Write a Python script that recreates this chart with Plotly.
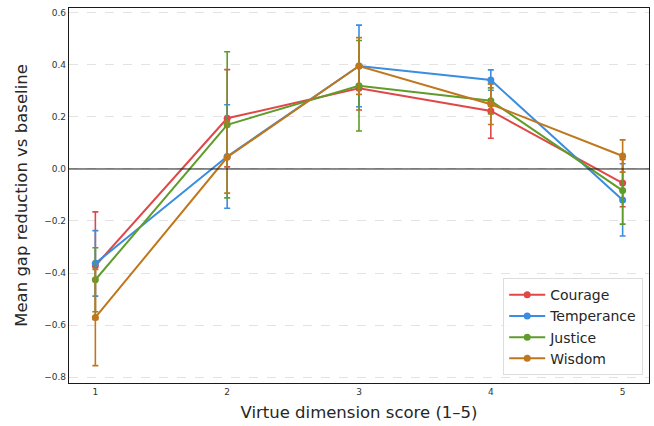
import plotly.graph_objects as go

scores = [1, 2, 3, 4, 5]
series_names = ["Courage", "Temperance", "Justice", "Wisdom"]
courage = [-0.372, 0.195, 0.310, 0.223, -0.054]
courage_err = [0.207, 0.187, 0.083, 0.105, 0.091]
temperance = [-0.363, 0.048, 0.396, 0.342, -0.119]
temperance_err = [0.126, 0.199, 0.157, 0.039, 0.139]
justice = [-0.426, 0.170, 0.320, 0.262, -0.083]
justice_err = [0.123, 0.281, 0.174, 0.050, 0.129]
wisdom = [-0.571, 0.045, 0.396, 0.249, 0.050]
wisdom_err = [0.185, 0.138, 0.109, 0.078, 0.062]
colors = ["#e04848", "#3a8de0", "#5f9c2a", "#c0771c"]
y_ticks = [-0.8, -0.6, -0.4, -0.2, 0.0, 0.2, 0.4, 0.6]

values = [courage, temperance, justice, wisdom]
errors = [courage_err, temperance_err, justice_err, wisdom_err]

fig = go.Figure()
for name, v, e, c in zip(series_names, values, errors, colors):
    fig.add_trace(go.Scatter(
        x=scores, y=v, name=name, mode="lines+markers",
        line=dict(color=c, width=2),
        marker=dict(color=c, size=7),
        error_y=dict(type="data", array=e, visible=True, color=c,
                     thickness=1.6, width=3),
    ))

fig.add_hline(y=0, line=dict(color="#1a1a1a", width=1))

fig.update_layout(
    width=654, height=426,
    margin=dict(l=69, r=5, t=8, b=43),
    paper_bgcolor="white", plot_bgcolor="white",
    font=dict(family="DejaVu Sans", color="#262626"),
    xaxis=dict(
        range=[0.8, 5.2], tickvals=scores, ticktext=[str(s) for s in scores],
        showgrid=False, zeroline=False, showline=True, mirror=True,
        linecolor="#1a1a1a", linewidth=1.3, ticks="", tickfont=dict(size=9, color="#333"),
        title=dict(text="Virtue dimension score (1–5)", font=dict(size=16.5), standoff=10),
    ),
    yaxis=dict(
        range=[-0.823, 0.619], tickvals=y_ticks, tickformat=".1f",
        showgrid=True, gridcolor="#e3e3e3", griddash="dash", gridwidth=0.8,
        zeroline=False, showline=True, mirror=True,
        linecolor="#1a1a1a", linewidth=1.3, ticks="", tickfont=dict(size=9, color="#333"),
        title=dict(text="Mean gap reduction vs baseline", font=dict(size=16.5), standoff=12),
    ),
    legend=dict(
        x=0.99, y=0.021, xanchor="right", yanchor="bottom",
        bgcolor="rgba(255,255,255,0.85)", bordercolor="#dddddd", borderwidth=1,
        font=dict(size=14, color="#262626"),
        itemwidth=36, tracegroupgap=0,
    ),
    showlegend=True,
)

fig.write_html("out.html")
